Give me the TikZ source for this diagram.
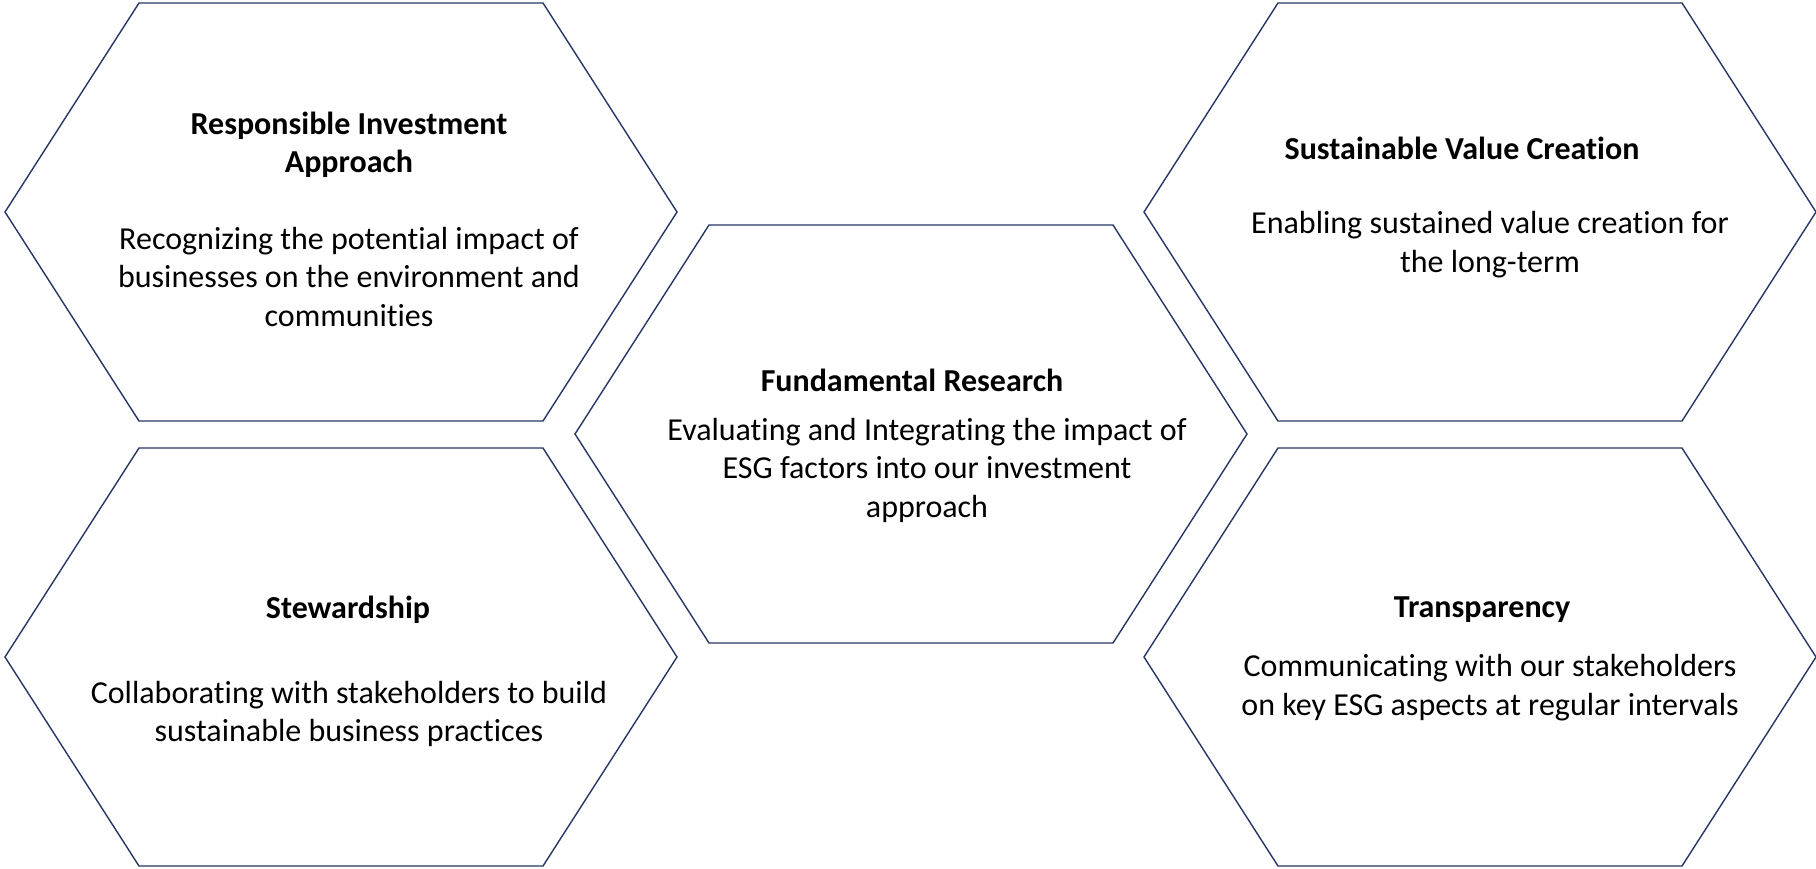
\documentclass[tikz,border=0pt]{standalone}
\usepackage{fontspec}
\setmainfont{Carlito}[Ligatures={NoCommon,NoContextual}, RawFeature={-liga;-clig;-dlig}]
\definecolor{hexblue}{RGB}{38,55,100}
\tikzset{
  hexline/.style={draw=hexblue, line width=0.7pt, line join=miter},
  ttl/.style={font=\fontsize{16}{19.25}\selectfont\bfseries, align=center, inner sep=0pt},
  txt/.style={font=\fontsize{16}{19.25}\selectfont, align=center, inner sep=0pt},
}
\newcommand{\hexshape}[1]{%
  \draw[hexline] (#1) ++(-336,0) -- ++(134,-209) -- ++(404,0) -- ++(134,209)
    -- ++(-134,209) -- ++(-404,0) -- cycle;}
\begin{document}
\begin{tikzpicture}[x=0.5pt,y=-0.5pt]
\useasboundingbox (0,0) rectangle (1816,868);
\fill[white] (0,0) rectangle (1816,868);
\coordinate (htl) at (341,212);
\coordinate (hbl) at (341,657);
\coordinate (hc)  at (911,434);
\coordinate (htr) at (1480,212);
\coordinate (hbr) at (1480,657);
\hexshape{htl}
\hexshape{hbl}
\hexshape{hc}
\hexshape{htr}
\hexshape{hbr}
% top-left
\node[ttl] (t1) at (349,145) {Responsible Investment\\Approach};
\node[txt] (b1) at (349,277) {Recognizing the potential impact of\\businesses on the environment and\\communities};
% bottom-left
\node[ttl] (t2) at (348,610) {Stewardship};
\node[txt] (b2) at (349,714) {Collaborating with stakeholders to build\\sustainable business practices};
% centre
\node[ttl] (t3) at (912,380) {Fundamental Research};
\node[txt] (b3) at (927,470) {Evaluating and Integrating the impact of\\ESG factors into our investment\\approach};
% top-right
\node[ttl] (t4) at (1462,148) {Sustainable Value Creation};
\node[txt] (b4) at (1490,244.5) {Enabling sustained value creation for\\the long-term};
% bottom-right
\node[ttl] (t5) at (1482,610) {Transparency};
\node[txt] (b5) at (1490,687.5) {Communicating with our stakeholders\\on key ESG aspects at regular intervals};
\end{tikzpicture}
\end{document}
